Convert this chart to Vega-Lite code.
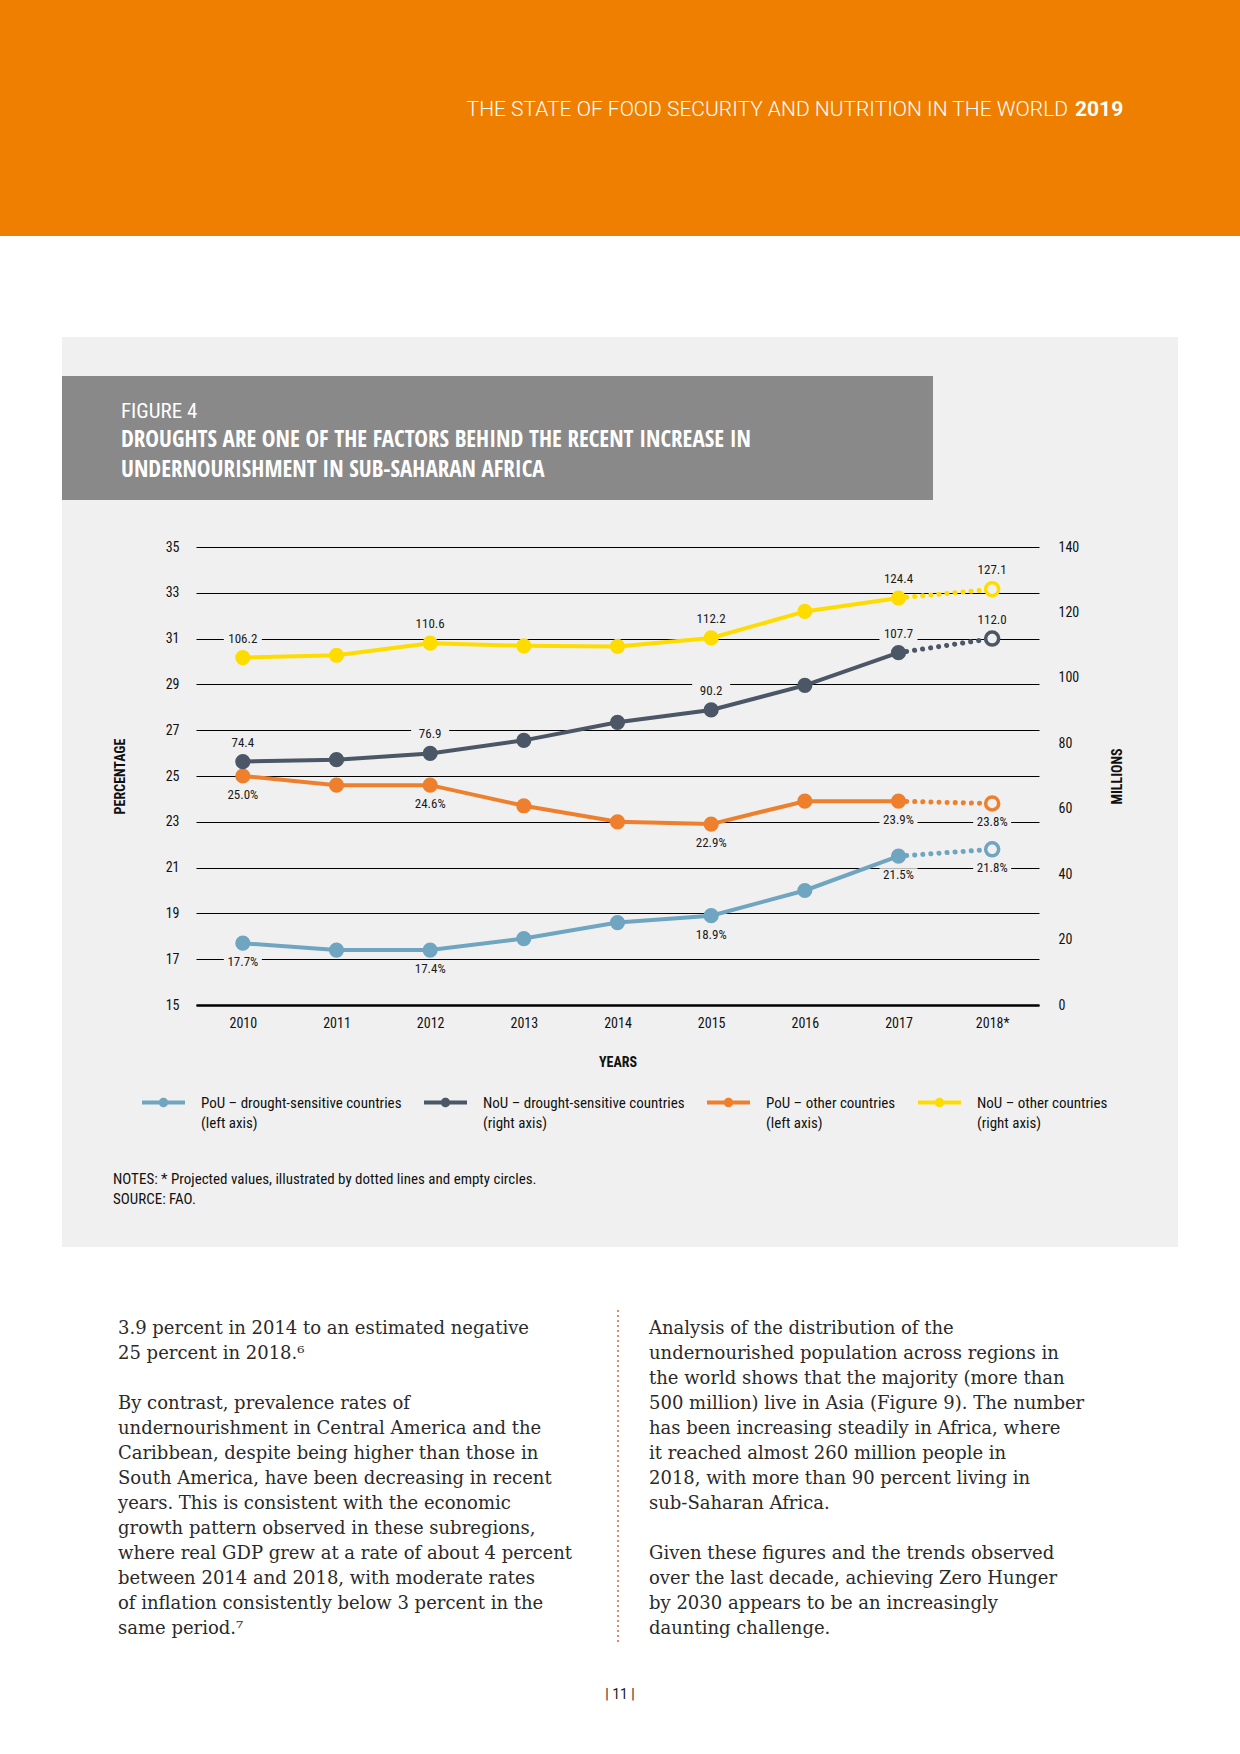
{
  "$schema": "https://vega.github.io/schema/vega-lite/v6.json",
  "background": "#f0f0f0",
  "padding": 0,
  "spacing": 0,
  "config": {
    "view": {"stroke": null},
    "axis": {"labelFont": "Roboto Condensed, sans-serif", "titleFont": "Roboto Condensed, sans-serif"},
    "legend": {"labelFont": "Roboto Condensed, sans-serif"}
  },
  "datasets": {
    "series": [
      {"s": "PoU – drought-sensitive countries (left axis)", "ax": "left", "year": "2010", "v": 17.7, "label": "17.7%"},
      {"s": "PoU – drought-sensitive countries (left axis)", "ax": "left", "year": "2011", "v": 17.4, "label": null},
      {"s": "PoU – drought-sensitive countries (left axis)", "ax": "left", "year": "2012", "v": 17.4, "label": "17.4%"},
      {"s": "PoU – drought-sensitive countries (left axis)", "ax": "left", "year": "2013", "v": 17.9, "label": null},
      {"s": "PoU – drought-sensitive countries (left axis)", "ax": "left", "year": "2014", "v": 18.6, "label": null},
      {"s": "PoU – drought-sensitive countries (left axis)", "ax": "left", "year": "2015", "v": 18.9, "label": "18.9%"},
      {"s": "PoU – drought-sensitive countries (left axis)", "ax": "left", "year": "2016", "v": 20.0, "label": null},
      {"s": "PoU – drought-sensitive countries (left axis)", "ax": "left", "year": "2017", "v": 21.5, "label": "21.5%"},
      {"s": "PoU – drought-sensitive countries (left axis)", "ax": "left", "year": "2018*", "v": 21.8, "label": "21.8%"},
      {"s": "NoU – drought-sensitive countries (right axis)", "ax": "right", "year": "2010", "v": 74.4, "label": "74.4"},
      {"s": "NoU – drought-sensitive countries (right axis)", "ax": "right", "year": "2011", "v": 75.0, "label": null},
      {"s": "NoU – drought-sensitive countries (right axis)", "ax": "right", "year": "2012", "v": 76.9, "label": "76.9"},
      {"s": "NoU – drought-sensitive countries (right axis)", "ax": "right", "year": "2013", "v": 80.9, "label": null},
      {"s": "NoU – drought-sensitive countries (right axis)", "ax": "right", "year": "2014", "v": 86.4, "label": null},
      {"s": "NoU – drought-sensitive countries (right axis)", "ax": "right", "year": "2015", "v": 90.2, "label": "90.2"},
      {"s": "NoU – drought-sensitive countries (right axis)", "ax": "right", "year": "2016", "v": 97.7, "label": null},
      {"s": "NoU – drought-sensitive countries (right axis)", "ax": "right", "year": "2017", "v": 107.7, "label": "107.7"},
      {"s": "NoU – drought-sensitive countries (right axis)", "ax": "right", "year": "2018*", "v": 112.0, "label": "112.0"},
      {"s": "PoU – other countries (left axis)", "ax": "left", "year": "2010", "v": 25.0, "label": "25.0%"},
      {"s": "PoU – other countries (left axis)", "ax": "left", "year": "2011", "v": 24.6, "label": null},
      {"s": "PoU – other countries (left axis)", "ax": "left", "year": "2012", "v": 24.6, "label": "24.6%"},
      {"s": "PoU – other countries (left axis)", "ax": "left", "year": "2013", "v": 23.7, "label": null},
      {"s": "PoU – other countries (left axis)", "ax": "left", "year": "2014", "v": 23.0, "label": null},
      {"s": "PoU – other countries (left axis)", "ax": "left", "year": "2015", "v": 22.9, "label": "22.9%"},
      {"s": "PoU – other countries (left axis)", "ax": "left", "year": "2016", "v": 23.9, "label": null},
      {"s": "PoU – other countries (left axis)", "ax": "left", "year": "2017", "v": 23.9, "label": "23.9%"},
      {"s": "PoU – other countries (left axis)", "ax": "left", "year": "2018*", "v": 23.8, "label": "23.8%"},
      {"s": "NoU – other countries (right axis)", "ax": "right", "year": "2010", "v": 106.2, "label": "106.2"},
      {"s": "NoU – other countries (right axis)", "ax": "right", "year": "2011", "v": 106.9, "label": null},
      {"s": "NoU – other countries (right axis)", "ax": "right", "year": "2012", "v": 110.6, "label": "110.6"},
      {"s": "NoU – other countries (right axis)", "ax": "right", "year": "2013", "v": 109.8, "label": null},
      {"s": "NoU – other countries (right axis)", "ax": "right", "year": "2014", "v": 109.6, "label": null},
      {"s": "NoU – other countries (right axis)", "ax": "right", "year": "2015", "v": 112.2, "label": "112.2"},
      {"s": "NoU – other countries (right axis)", "ax": "right", "year": "2016", "v": 120.3, "label": null},
      {"s": "NoU – other countries (right axis)", "ax": "right", "year": "2017", "v": 124.4, "label": "124.4"},
      {"s": "NoU – other countries (right axis)", "ax": "right", "year": "2018*", "v": 127.1, "label": "127.1"}
    ],
    "body": [
      {"c": 0, "ln": 0, "t": "3.9 percent in 2014 to an estimated negative"},
      {"c": 0, "ln": 1, "t": "25 percent in 2018.⁶"},
      {"c": 0, "ln": 3, "t": "By contrast, prevalence rates of"},
      {"c": 0, "ln": 4, "t": "undernourishment in Central America and the"},
      {"c": 0, "ln": 5, "t": "Caribbean, despite being higher than those in"},
      {"c": 0, "ln": 6, "t": "South America, have been decreasing in recent"},
      {"c": 0, "ln": 7, "t": "years. This is consistent with the economic"},
      {"c": 0, "ln": 8, "t": "growth pattern observed in these subregions,"},
      {"c": 0, "ln": 9, "t": "where real GDP grew at a rate of about 4 percent"},
      {"c": 0, "ln": 10, "t": "between 2014 and 2018, with moderate rates"},
      {"c": 0, "ln": 11, "t": "of inflation consistently below 3 percent in the"},
      {"c": 0, "ln": 12, "t": "same period.⁷"},
      {"c": 1, "ln": 0, "t": "Analysis of the distribution of the"},
      {"c": 1, "ln": 1, "t": "undernourished population across regions in"},
      {"c": 1, "ln": 2, "t": "the world shows that the majority (more than"},
      {"c": 1, "ln": 3, "t": "500 million) live in Asia (Figure 9). The number"},
      {"c": 1, "ln": 4, "t": "has been increasing steadily in Africa, where"},
      {"c": 1, "ln": 5, "t": "it reached almost 260 million people in"},
      {"c": 1, "ln": 6, "t": "2018, with more than 90 percent living in"},
      {"c": 1, "ln": 7, "t": "sub-Saharan Africa."},
      {"c": 1, "ln": 9, "t": "Given these figures and the trends observed"},
      {"c": 1, "ln": 10, "t": "over the last decade, achieving Zero Hunger"},
      {"c": 1, "ln": 11, "t": "by 2030 appears to be an increasingly"},
      {"c": 1, "ln": 12, "t": "daunting challenge."}
    ],
    "pagenum": [{"c": 0.9454, "ln": 14.64, "t": "| 11 |"}]
  },
  "vconcat": [
    {
      "spacing": 0,
      "hconcat": [
        {"width": 1071, "height": 236, "view": {"fill": "#ef7f00", "stroke": null}, "data": {"values": []}, "mark": "point",
          "title": {"text": "THE STATE OF FOOD SECURITY AND NUTRITION IN THE WORLD", "anchor": "end", "frame": "group", "orient": "top", "offset": -120, "dx": -3, "color": "white", "font": "Roboto, sans-serif", "fontSize": 21, "fontWeight": 300}},
        {"width": 169, "height": 236, "view": {"fill": "#ef7f00", "stroke": null}, "data": {"values": []}, "mark": "point",
          "title": {"text": "2019", "anchor": "start", "frame": "group", "orient": "top", "offset": -120, "dx": 4, "color": "white", "font": "Roboto, sans-serif", "fontSize": 21, "fontWeight": "bold"}}
      ]
    },
    {"width": 1240, "height": 101, "view": {"fill": "white", "stroke": null}, "data": {"values": []}, "mark": "point"},
    {
      "spacing": 0,
      "hconcat": [
        {"width": 62, "height": 910, "view": {"fill": "white", "stroke": null}, "data": {"values": []}, "mark": "point"},
        {
          "spacing": 0,
          "vconcat": [
            {"width": 1116, "height": 39, "data": {"values": []}, "mark": "point"},
            {"width": 871, "height": 124, "view": {"fill": "#898989", "stroke": null}, "data": {"values": []}, "mark": "point",
              "title": {
                "text": "FIGURE 4",
                "subtitle": ["DROUGHTS ARE ONE OF THE FACTORS BEHIND THE RECENT INCREASE IN", "UNDERNOURISHMENT IN SUB-SAHARAN AFRICA"],
                "anchor": "start", "frame": "group", "orient": "top", "offset": -106, "dx": 59,
                "color": "white", "subtitleColor": "white", "font": "Roboto Condensed, sans-serif", "subtitleFont": "Open Sans Condensed, Roboto Condensed, sans-serif", "fontSize": 21, "fontWeight": "normal",
                "subtitleFontSize": 23, "subtitleFontWeight": "bold", "subtitleLineHeight": 30, "subtitlePadding": 7
              }},
            {"width": 1116, "height": 40, "data": {"values": []}, "mark": "point"},
            {
              "spacing": 0,
              "hconcat": [
                {"width": 51, "height": 458, "data": {"values": []}, "mark": "point"},
                {
                  "width": 843, "height": 458,
                  "data": {"name": "series"},
                  "encoding": {
                    "x": {"field": "year", "type": "ordinal", "scale": {"type": "point", "padding": 0.5},
                      "axis": {"title": "YEARS", "titleFontWeight": "bold", "titleFontSize": 14, "titlePadding": 25, "titleColor": "#111", "labelAngle": 0, "labelFontSize": 14, "labelPadding": 11, "labelColor": "#111", "ticks": false, "domain": true, "domainColor": "#000", "domainWidth": 2.5, "grid": false, "zindex": 0}},
                    "color": {"field": "s", "type": "nominal",
                      "scale": {"domain": ["PoU – drought-sensitive countries (left axis)", "NoU – drought-sensitive countries (right axis)", "PoU – other countries (left axis)", "NoU – other countries (right axis)"], "range": ["#6fa5c0", "#4b5767", "#ee7f2d", "#ffdc00"]},
                      "legend": {
                        "orient": "none", "legendX": 142, "legendY": 1081, "direction": "horizontal", "columns": 4, "title": null,
                        "symbolType": "M-1,-0.09L1,-0.09L1,0.09L-1,0.09Z M0.22,0A0.22,0.22,0,1,1,-0.22,0A0.22,0.22,0,1,1,0.22,0Z",
                        "symbolSize": 1849, "symbolStrokeWidth": 0, "symbolOpacity": 1,
                        "labelFontSize": 15, "labelColor": "#111", "labelOffset": 16, "columnPadding": 22, "gridAlign": "none", "padding": 0, "labelLimit": 400,
                        "labelExpr": "[slice(datum.label, 0, indexof(datum.label, ' (')), slice(datum.label, indexof(datum.label, ' (') + 1)]",
                        "encode": {
                          "symbols": {"update": {"fill": {"scale": "color", "field": "value"}, "opacity": {"value": 1}, "strokeWidth": {"value": 0}}},
                          "labels": {"update": {"lineHeight": {"value": 20}}}
                        }
                      }
                    }
                  },
                  "layer": [
                    {
                      "transform": [{"filter": "datum.ax == 'left'"}],
                      "encoding": {
                        "y": {"field": "v", "type": "quantitative", "scale": {"domain": [15, 35], "nice": false, "zero": false},
                          "axis": {"orient": "left", "values": [15, 17, 19, 21, 23, 25, 27, 29, 31, 33, 35], "grid": true, "gridColor": "#000", "gridWidth": 1, "gridOpacity": 1, "domain": false, "ticks": false, "labelPadding": 17, "labelFontSize": 14, "labelColor": "#111", "title": "PERCENTAGE", "titleFontWeight": "bold", "titleFontSize": 14, "titleColor": "#111", "titleX": -76, "titleY": 229, "titleAngle": -90, "titleAlign": "center", "titleBaseline": "middle", "zindex": 0}}
                      },
                      "layer": [
                        {"transform": [{"filter": "datum.label != null"}], "mark": {"type": "point", "shape": "M-1,-0.36L1,-0.36L1,0.36L-1,0.36Z", "size": 1444, "filled": true, "opacity": 1, "strokeWidth": 0, "yOffset": 19}, "encoding": {"color": {"value": "#f0f0f0"}}},
                        {"transform": [{"filter": "datum.year != '2018*'"}], "mark": {"type": "line", "strokeWidth": 4}},
                        {"transform": [{"filter": "datum.year == '2017' || datum.year == '2018*'"}], "mark": {"type": "line", "strokeWidth": 5, "strokeDash": [0.1, 8], "strokeCap": "round"}},
                        {"transform": [{"filter": "datum.year != '2018*'"}], "mark": {"type": "point", "filled": true, "size": 230, "opacity": 1}},
                        {"transform": [{"filter": "datum.year == '2018*'"}], "mark": {"type": "point", "filled": false, "fill": "#f0f0f0", "strokeWidth": 3.5, "size": 170, "opacity": 1}},
                        {"transform": [{"filter": "datum.label != null"}], "mark": {"type": "text", "dy": 19, "font": "Roboto Condensed, sans-serif", "fontSize": 13}, "encoding": {"text": {"field": "label"}, "color": {"value": "#1a1a1a"}}}
                      ]
                    },
                    {
                      "transform": [{"filter": "datum.ax == 'right'"}],
                      "encoding": {
                        "y": {"field": "v", "type": "quantitative", "scale": {"domain": [0, 140], "nice": false, "zero": false},
                          "axis": {"orient": "right", "values": [0, 20, 40, 60, 80, 100, 120, 140], "grid": false, "domain": false, "ticks": false, "labelPadding": 19, "labelFontSize": 14, "labelColor": "#111", "title": "MILLIONS", "titleFontWeight": "bold", "titleFontSize": 14, "titleColor": "#111", "titleX": 78, "titleY": 229, "titleAngle": -90, "titleAlign": "center", "titleBaseline": "middle", "zindex": 0}}
                      },
                      "layer": [
                        {"transform": [{"filter": "datum.label != null"}], "mark": {"type": "point", "shape": "M-1,-0.36L1,-0.36L1,0.36L-1,0.36Z", "size": 1444, "filled": true, "opacity": 1, "strokeWidth": 0, "yOffset": -19}, "encoding": {"color": {"value": "#f0f0f0"}}},
                        {"transform": [{"filter": "datum.year != '2018*'"}], "mark": {"type": "line", "strokeWidth": 4}},
                        {"transform": [{"filter": "datum.year == '2017' || datum.year == '2018*'"}], "mark": {"type": "line", "strokeWidth": 5, "strokeDash": [0.1, 8], "strokeCap": "round"}},
                        {"transform": [{"filter": "datum.year != '2018*'"}], "mark": {"type": "point", "filled": true, "size": 230, "opacity": 1}},
                        {"transform": [{"filter": "datum.year == '2018*'"}], "mark": {"type": "point", "filled": false, "fill": "#f0f0f0", "strokeWidth": 3.5, "size": 170, "opacity": 1}},
                        {"transform": [{"filter": "datum.label != null"}], "mark": {"type": "text", "dy": -19, "font": "Roboto Condensed, sans-serif", "fontSize": 13}, "encoding": {"text": {"field": "label"}, "color": {"value": "#1a1a1a"}}}
                      ]
                    }
                  ],
                  "resolve": {"scale": {"y": "independent"}}
                }
              ]
            },
            {"width": 1116, "height": 177, "data": {"values": []}, "mark": "point",
              "title": {"text": ["NOTES: * Projected values, illustrated by dotted lines and empty circles.", "SOURCE: FAO."], "anchor": "start", "frame": "group", "orient": "top", "offset": -138, "dx": 51, "font": "Roboto Condensed, sans-serif", "fontSize": 15, "fontWeight": "normal", "color": "#111", "lineHeight": 20}}
          ]
        },
        {"width": 62, "height": 910, "view": {"fill": "white", "stroke": null}, "data": {"values": []}, "mark": "point"}
      ]
    },
    {
      "width": 1240, "height": 507,
      "view": {"fill": "white", "stroke": null},
      "encoding": {
        "x": {"field": "c", "type": "quantitative", "scale": {"domain": [-0.22222, 2.113], "nice": false, "zero": false}, "axis": null},
        "y": {"field": "ln", "type": "quantitative", "scale": {"domain": [-3.28, 17.0], "nice": false, "zero": false, "reverse": true}, "axis": null}
      },
      "layer": [
        {"data": {"name": "body"}, "mark": {"type": "text", "align": "left", "baseline": "middle", "font": "DejaVu Serif", "fontSize": 18, "color": "#2a2a2a"}, "encoding": {"text": {"field": "t"}}},
        {"data": {"name": "pagenum"}, "mark": {"type": "text", "align": "center", "baseline": "middle", "font": "Roboto, sans-serif", "fontSize": 14, "color": "#222"}, "encoding": {"text": {"field": "t"}}},
        {"data": {"values": [{"c": 0.9416, "a": -0.76, "b": 12.56}]}, "mark": {"type": "rule", "color": "#dd8a72", "strokeWidth": 2, "strokeDash": [2, 3]}, "encoding": {"x": {"field": "c", "type": "quantitative"}, "y": {"field": "a", "type": "quantitative"}, "y2": {"field": "b"}}}
      ]
    }
  ]
}
